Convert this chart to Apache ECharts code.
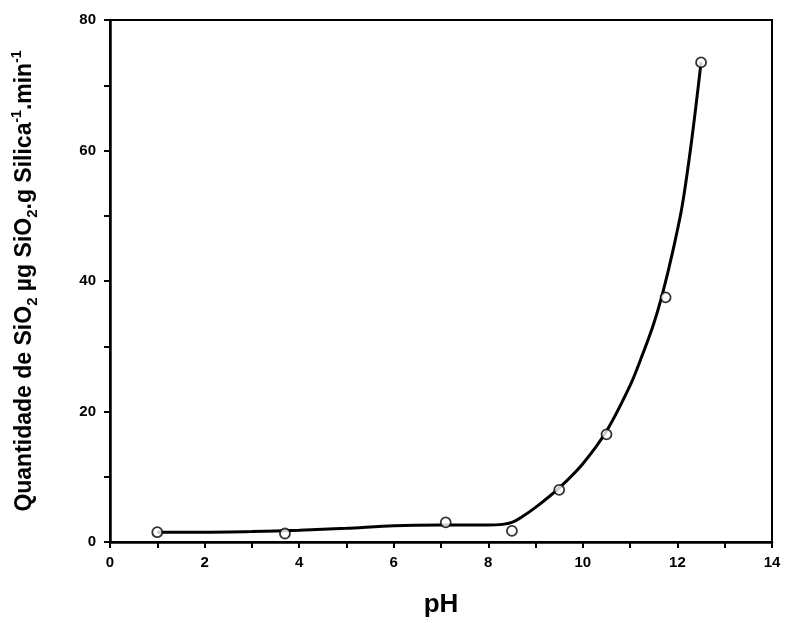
<!DOCTYPE html>
<html><head><meta charset="utf-8">
<script src="https://cdn.jsdelivr.net/npm/echarts@6/dist/echarts.min.js"></script>
<style>html,body{margin:0;padding:0;background:#fff}#c{width:787px;height:623px}</style>
</head><body><div id="c"></div>
<script>
// measured points
const phPoints = [1.0, 3.7, 7.1, 8.5, 9.5, 10.5, 11.75, 12.5];
const silicaPoints = [1.5, 1.3, 3.0, 1.7, 8.0, 16.5, 37.5, 73.5];
// fitted curve
const phCurve = [1.0, 2.0, 3.0, 4.0, 5.0, 6.0, 7.0, 8.0, 8.3, 8.5, 8.7, 9.0, 9.5, 10.0, 10.5, 11.0, 11.25, 11.5, 11.7, 11.9, 12.1, 12.3, 12.5];
const silicaCurve = [1.5, 1.5, 1.6, 1.8, 2.1, 2.5, 2.6, 2.6, 2.7, 3.0, 3.8, 5.3, 8.3, 12.0, 17.0, 24.0, 28.5, 33.5, 38.5, 44.5, 51.5, 61.5, 73.5];
const xTicks = {min: 0, max: 14, interval: 2};
const yTicks = {min: 0, max: 80, interval: 20};

const chart = echarts.init(document.getElementById('c'));
const font = 'Liberation Sans, Arial, sans-serif';
chart.setOption({
  animation: false,
  backgroundColor: '#fff',
  grid: {left: 110, right: 15, top: 20, bottom: 80, show: true, borderColor: '#000', borderWidth: 2, backgroundColor: 'transparent'},
  xAxis: {
    type: 'value', min: xTicks.min, max: xTicks.max, interval: xTicks.interval,
    name: 'pH', nameLocation: 'middle', nameGap: 50,
    nameTextStyle: {fontFamily: font, fontWeight: 'bold', fontSize: 26, color: '#000'},
    axisLine: {onZero: false, lineStyle: {color: '#000', width: 2.5}},
    axisTick: {show: true, inside: false, length: 6, lineStyle: {color: '#000', width: 2}},
    minorTick: {show: true, splitNumber: 2, length: 6, lineStyle: {color: '#000', width: 2}},
    splitLine: {show: false},
    axisLabel: {fontFamily: font, fontWeight: 'bold', fontSize: 15, color: '#000', margin: 13}
  },
  yAxis: {
    type: 'value', min: yTicks.min, max: yTicks.max, interval: yTicks.interval,
    name: '{n|Quantidade de SiO}{sub|2}{n| µg SiO}{sub|2}{n|.g Silica}{sup|-1}{n|.min}{sup|-1}',
    nameLocation: 'middle', nameGap: 70, nameRotate: 90,
    nameTextStyle: {
      fontFamily: font, fontWeight: 'bold', fontSize: 23, color: '#000',
      rich: {
        n: {fontFamily: font, fontWeight: 'bold', fontSize: 23, color: '#000', lineHeight: 30, verticalAlign: 'middle'},
        sub: {fontFamily: font, fontWeight: 'bold', fontSize: 15, color: '#000', lineHeight: 30, verticalAlign: 'bottom'},
        sup: {fontFamily: font, fontWeight: 'bold', fontSize: 14, color: '#000', lineHeight: 30, verticalAlign: 'top'}
      }
    },
    axisLine: {onZero: false, lineStyle: {color: '#000', width: 2.5}},
    axisTick: {show: true, inside: false, length: 6, lineStyle: {color: '#000', width: 2}},
    minorTick: {show: true, splitNumber: 2, length: 6, lineStyle: {color: '#000', width: 2}},
    splitLine: {show: false},
    axisLabel: {fontFamily: font, fontWeight: 'bold', fontSize: 15, color: '#000', margin: 14}
  },
  series: [
    {
      type: 'line', smooth: 0.3, symbol: 'none',
      data: phCurve.map((x, i) => [x, silicaCurve[i]]),
      lineStyle: {color: '#000', width: 3}, z: 2
    },
    {
      type: 'scatter', symbol: 'circle', symbolSize: 10,
      data: phPoints.map((x, i) => [x, silicaPoints[i]]),
      itemStyle: {color: '#fff', borderColor: '#000', borderWidth: 1.8}, z: 3
    }
  ]
});
</script></body></html>
